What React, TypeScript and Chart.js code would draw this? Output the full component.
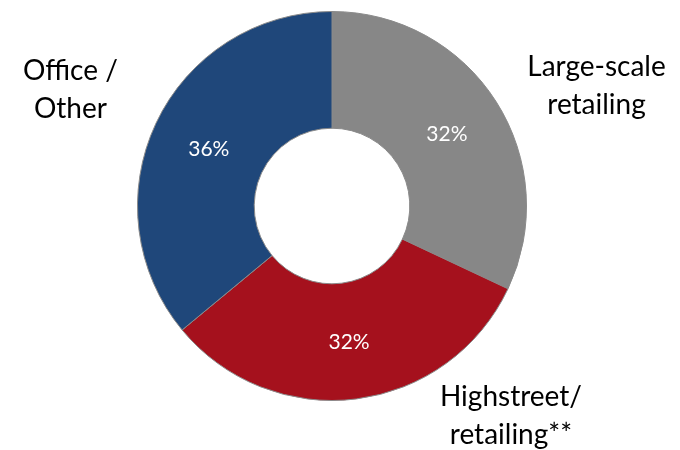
import React, { useEffect, useRef } from 'react';
import { Chart, registerables } from 'chart.js';

Chart.register(...registerables);

const categories = ['Large-scale retailing', 'Highstreet/ retailing**', 'Office / Other'];
const labelLines = [
  ['Large-scale', 'retailing'],
  ['Highstreet/', 'retailing**'],
  ['Office /', 'Other'],
];
const shares = [32, 32, 36];
const sliceColors = ['#878787', '#A5111D', '#1F477A'];
// first-baseline offsets of the outer labels from the doughnut centre, in outer-radius units
const labelOffsetX = [1.36, 0.92, -1.345];
const labelOffsetY = [-0.67, 1.03, -0.65];

const FONT = 'Lato, "Open Sans", sans-serif';

const labelPlugin = {
  id: 'sliceLabels',
  afterDatasetsDraw(chart: any) {
    const ctx = chart.ctx;
    const meta = chart.getDatasetMeta(0);
    ctx.save();
    // percentage labels at each arc's centroid
    ctx.fillStyle = '#ffffff';
    ctx.font = `21px ${FONT}`;
    ctx.textAlign = 'center';
    ctx.textBaseline = 'middle';
    meta.data.forEach((arc: any, i: number) => {
      const p = arc.tooltipPosition();
      ctx.fillText(`${shares[i]}%`, p.x, p.y + 1);
    });
    // category labels outside
    const first = meta.data[0];
    const cx = first.x;
    const cy = first.y;
    const R = first.outerRadius;
    ctx.fillStyle = '#000000';
    ctx.font = `28px ${FONT}`;
    ctx.textBaseline = 'alphabetic';
    labelLines.forEach((lines, i) => {
      const x = cx + labelOffsetX[i] * R;
      const y = cy + labelOffsetY[i] * R;
      lines.forEach((line, j) => {
        ctx.fillText(line, x, y + j * 38);
      });
    });
    ctx.restore();
  },
};

export default function App() {
  const canvasRef = useRef<HTMLCanvasElement>(null);

  useEffect(() => {
    const canvas = canvasRef.current;
    if (!canvas) return;
    const chart = new Chart(canvas, {
      type: 'doughnut',
      data: {
        labels: categories,
        datasets: [
          {
            data: shares,
            backgroundColor: sliceColors,
            borderColor: '#8a8a8a',
            borderWidth: 1,
          },
        ],
      },
      options: {
        responsive: true,
        maintainAspectRatio: false,
        animation: false,
        cutout: '40%',
        rotation: 0,
        layout: { padding: { left: 137, right: 153, top: 11, bottom: 49 } },
        plugins: {
          legend: { display: false },
          tooltip: { enabled: false },
        },
      },
      plugins: [labelPlugin],
    });
    return () => chart.destroy();
  }, []);

  return (
    <div style={{ position: 'fixed', left: 0, top: 0, width: 680, height: 450, background: '#ffffff' }}>
      <canvas ref={canvasRef} />
    </div>
  );
}
